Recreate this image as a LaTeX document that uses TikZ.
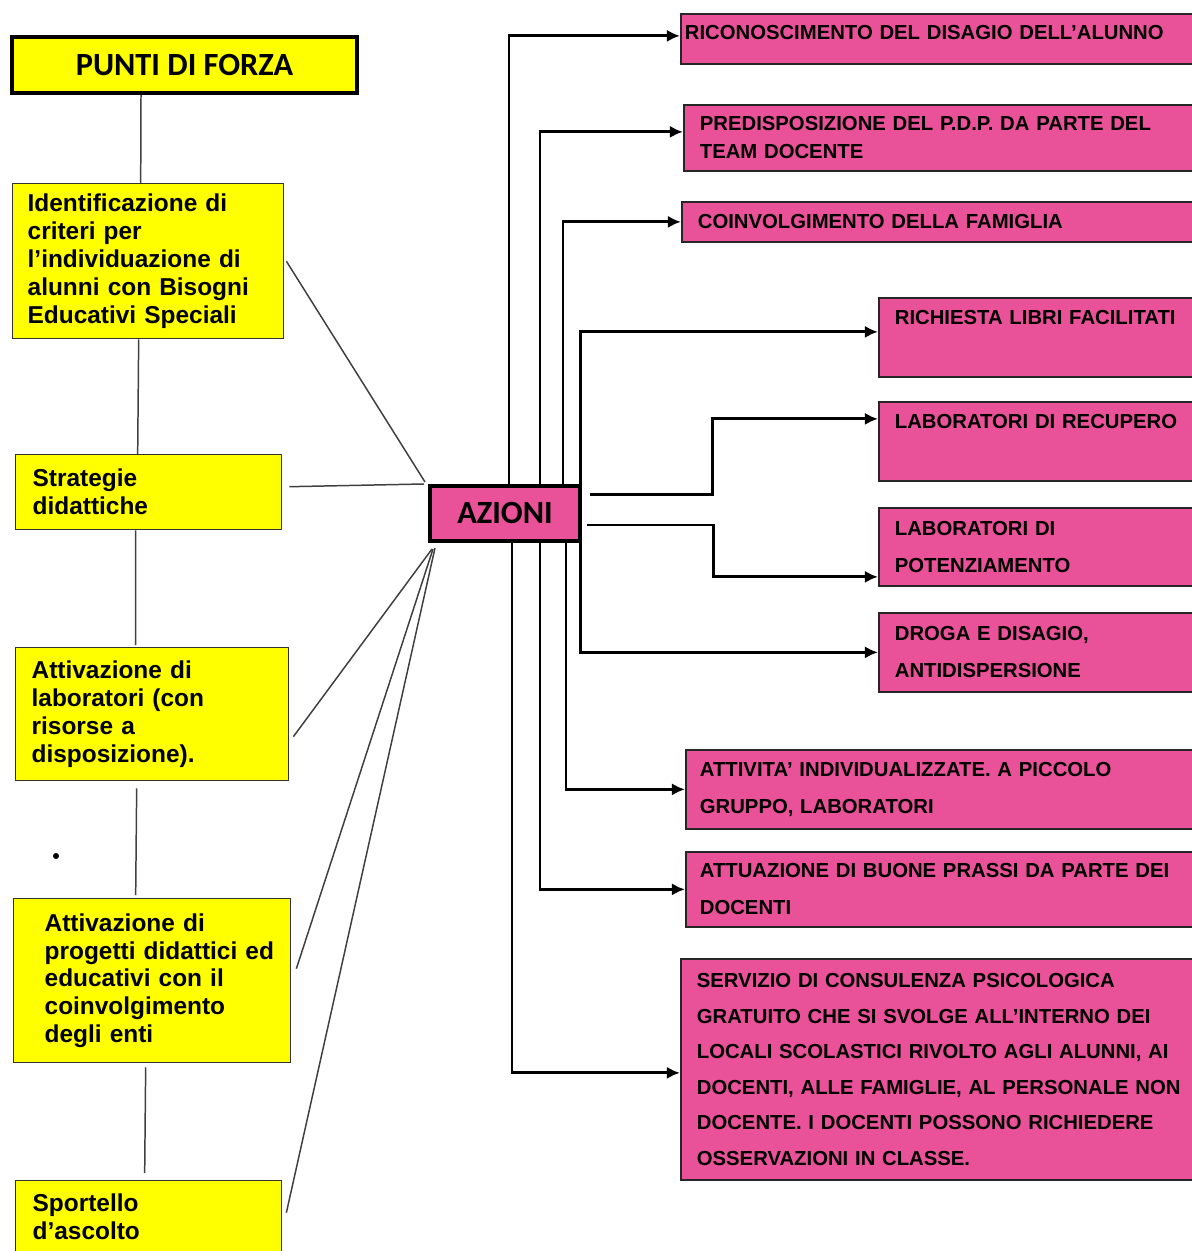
\documentclass[tikz,border=0pt]{standalone}
\usepackage{fontspec}
\setmainfont{Liberation Sans}
\newfontfamily\titlefont{Carlito}
\usetikzlibrary{arrows.meta}
\definecolor{giallo}{RGB}{255,255,0}
\definecolor{rosa}{RGB}{233,82,152}

\begin{document}
\begin{tikzpicture}[x=0.02cm,y=-0.02cm,->,>={Latex[length=7.5pt,width=7pt]},
  forza/.style={draw=black!80,line width=0.8pt,fill=giallo,anchor=north west,
    align=left,inner ysep=0pt,font=\bfseries\fontsize{13.9}{15.9}\selectfont},
  azione/.style={draw=black!85,line width=1pt,fill=rosa,anchor=north west,
    align=left,inner ysep=0pt,inner xsep=0.32cm,
    font=\bfseries\fontsize{11.55}{21}\selectfont},
  titolo/.style={draw=black,line width=2.3pt,
    font=\titlefont\bfseries\fontsize{18.4}{20}\selectfont},
  link/.style={-,draw=black!75,line width=0.85pt},
  freccia/.style={line width=1.7pt}]

\useasboundingbox (0,0) rectangle (1191,1251);

% punti di forza
\node [titolo,fill=giallo,minimum width=6.9cm,minimum height=1.12cm] (punti) at (184.5,65) {PUNTI DI FORZA};
\node [forza,inner xsep=0.3cm,text width=4.82cm,minimum height=3.1cm] (ident) at (12,183)
  {Identificazione di\\criteri per\\l’individuazione di\\alunni con Bisogni\\Educativi Speciali};
\node [forza,inner xsep=0.34cm,text width=4.64cm,minimum height=1.5cm] (strat) at (15,454)
  {Strategie\\didattiche};
\node [forza,inner xsep=0.32cm,text width=4.82cm,minimum height=2.66cm] (lab) at (15,647)
  {Attivazione di\\laboratori (con\\risorse a\\disposizione).};
\node [forza,inner xsep=0.2cm,text width=5.14cm,minimum height=3.28cm] (prog) at (13,898)
  {\hspace*{0.42cm}Attivazione di\\\hspace*{0.42cm}progetti didattici ed\\\hspace*{0.42cm}educativi con il\\
   \hspace*{0.42cm}coinvolgimento\\\hspace*{0.42cm}degli enti};
\node [forza,inner xsep=0.34cm,text width=4.64cm,minimum height=1.44cm] (sport) at (15,1180)
  {Sportello\\d’ascolto};
\node [circle,fill=black,inner sep=0pt,minimum size=0.12cm] (punto) at (56,856) {};

% azioni
\node [titolo,fill=rosa,minimum width=3cm,minimum height=1.1cm] (azioni) at (505,513.5) {AZIONI};

\node [azione,inner xsep=0.08cm,text width=10.4cm,minimum height=1cm,text depth=0.24cm] (ricon) at (680,13)
  {RICONOSCIMENTO DEL DISAGIO DELL’ALUNNO};
\node [azione,text width=10.4cm,minimum height=1.32cm,font=\bfseries\fontsize{11.55}{15.9}\selectfont] (predis) at (683,104)
  {PREDISPOSIZIONE DEL P.D.P. DA PARTE DEL\\TEAM DOCENTE};
\node [azione,text width=10.4cm,minimum height=0.8cm] (coinv) at (681,201)
  {COINVOLGIMENTO DELLA FAMIGLIA};
\node [azione,text width=6.2cm,minimum height=1.58cm] (richiesta) at (878,297)
  {RICHIESTA LIBRI FACILITATI\\[2.2pt]\mbox{}};
\node [azione,text width=6.2cm,minimum height=1.58cm] (recupero) at (878,401)
  {LABORATORI DI RECUPERO\\[2.2pt]\mbox{}};
\node [azione,text width=6.2cm,minimum height=1.56cm] (potenz) at (878,507)
  {LABORATORI DI\\POTENZIAMENTO};
\node [azione,text width=6.2cm,minimum height=1.58cm] (droga) at (878,612)
  {DROGA E DISAGIO,\\ANTIDISPERSIONE};
\node [azione,inner xsep=0.28cm,text width=10.4cm,minimum height=1.58cm] (attivita) at (685,749)
  {ATTIVITA’ INDIVIDUALIZZATE. A PICCOLO\\GRUPPO, LABORATORI};
\node [azione,inner xsep=0.28cm,text width=10.4cm,minimum height=1.5cm] (prassi) at (685,851)
  {ATTUAZIONE DI BUONE PRASSI DA PARTE DEI\\DOCENTI};
\node [azione,text width=10.4cm,minimum height=4.42cm,font=\bfseries\fontsize{11.55}{20.2}\selectfont] (servizio) at (680,958)
  {SERVIZIO DI CONSULENZA PSICOLOGICA\\GRATUITO CHE SI SVOLGE ALL’INTERNO DEI\\LOCALI SCOLASTICI RIVOLTO AGLI ALUNNI, AI\\DOCENTI, ALLE FAMIGLIE, AL PERSONALE NON\\DOCENTE. I DOCENTI POSSONO RICHIEDERE\\OSSERVAZIONI IN CLASSE.};

% colonna
\draw [link] ([xshift=-0.87cm]punti.south) -- ([xshift=-0.15cm]ident.north);
\draw [link] ([xshift=-0.19cm]ident.south) -- ([xshift=-0.22cm]strat.north);
\draw [link] ([xshift=-0.26cm]strat.south) -- ([xshift=-0.33cm,yshift=0.04cm]lab.north);
\draw [link] ([xshift=-0.31cm,yshift=-0.14cm]lab.south) -- ([xshift=-0.33cm,yshift=0.06cm]prog.north);
\draw [link] ([xshift=-0.13cm,yshift=-0.08cm]prog.south) -- ([xshift=-0.08cm,yshift=0.14cm]sport.north);

% verso azioni
\draw [link] ([xshift=0.04cm]ident.east) -- ([xshift=-0.06cm,yshift=0.04cm]azioni.north west);
\draw [link] ([xshift=0.14cm,yshift=0.11cm]strat.east) -- ([xshift=-0.08cm]azioni.north west);
\draw [link] ([xshift=0.08cm,yshift=-0.45cm]lab.east) -- ([xshift=0.08cm,yshift=-0.12cm]azioni.south west);
\draw [link] ([xshift=0.1cm,yshift=0.24cm]prog.east) -- ([xshift=0.1cm,yshift=-0.12cm]azioni.south west);
\draw [link] ([xshift=0.08cm,yshift=0.08cm]sport.east) -- ([xshift=0.14cm,yshift=-0.1cm]azioni.south west);

% frecce
\draw [freccia] ([xshift=0.08cm]azioni.north) |- ([yshift=0.06cm]ricon.west);
\draw [freccia] ([xshift=0.7cm]azioni.north) |- ([yshift=0.12cm]predis.west);
\draw [freccia] ([xshift=1.16cm]azioni.north) |- (coinv.west);
\draw [freccia] ([xshift=1.52cm]azioni.north) |- ([yshift=0.11cm]richiesta.west);
\draw [freccia] ([xshift=0.16cm,yshift=0.39cm]azioni.east) -- ++(122,0) |- ([yshift=0.45cm]recupero.west);
\draw [freccia] ([xshift=0.1cm,yshift=-0.23cm]azioni.east) -- ++(126,0) |- ([yshift=-0.6cm]potenz.west);
\draw [freccia] ([xshift=1.52cm]azioni.south) |- (droga.west);
\draw [freccia] ([xshift=1.22cm]azioni.south) |- (attivita.west);
\draw [freccia] ([xshift=0.7cm]azioni.south) |- (prassi.west);
\draw [freccia] ([xshift=0.14cm]azioni.south) |- ([yshift=-0.07cm]servizio.west);

\end{tikzpicture}
\end{document}
